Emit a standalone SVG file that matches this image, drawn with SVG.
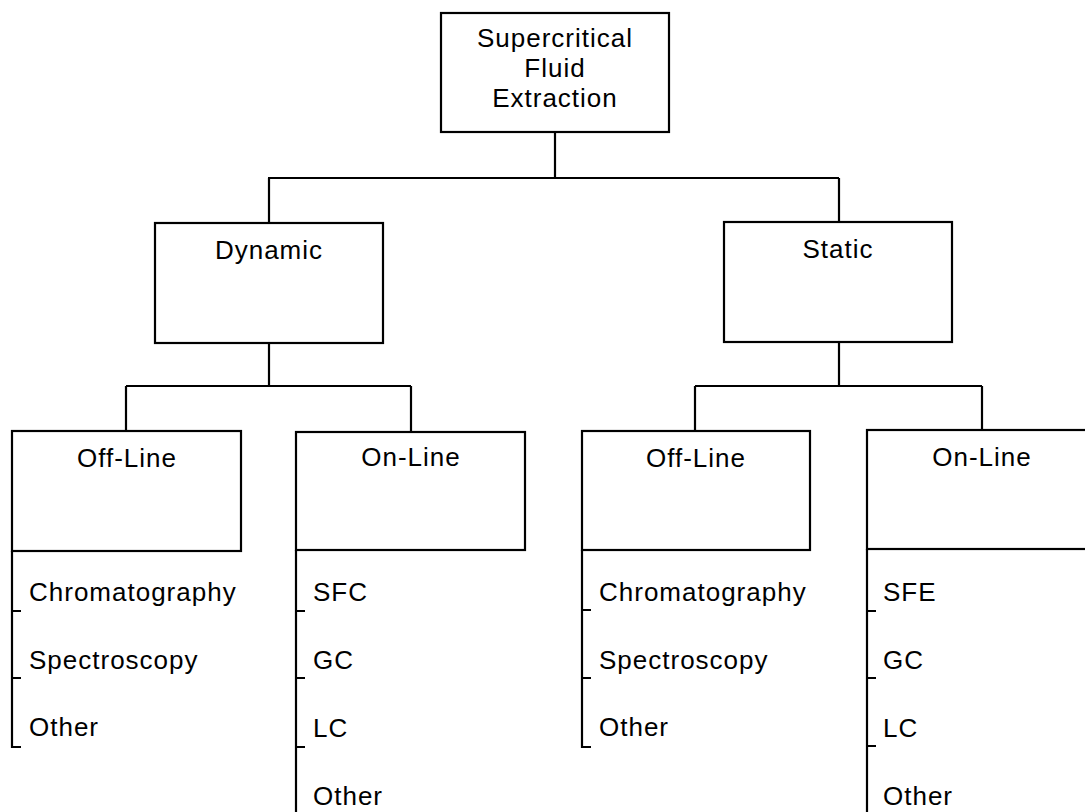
<svg xmlns="http://www.w3.org/2000/svg" width="1085" height="812" viewBox="0 0 1085 812">
<style>
.box{fill:#fff;stroke:#000;stroke-width:2.2}
.ln{fill:none;stroke:#000;stroke-width:2.2}
text{font-family:"Liberation Sans",Arial,sans-serif;font-size:26px;letter-spacing:1px;fill:#000}
.c{text-anchor:middle}
</style>
<rect width="1085" height="812" fill="#fff"/>
<g id="connectors" class="ln">
<path d="M555,132 V178 M268,178 H839 M269,178 V223 M839,178 V222"/>
<path d="M269,343 V386 M126,386 H411 M126,386 V431 M411,386 V432"/>
<path d="M839,342 V386 M695,386 H982 M695,386 V431 M982,386 V430"/>
</g>
<g id="sfe">
<rect class="box" x="441" y="13" width="228" height="119"/>
<text class="c" x="555" y="47">Supercritical</text>
<text class="c" x="555" y="77">Fluid</text>
<text class="c" x="555" y="107">Extraction</text>
</g>
<g id="dynamic">
<rect class="box" x="155" y="223" width="228" height="120"/>
<text class="c" x="269" y="259">Dynamic</text>
</g>
<g id="static">
<rect class="box" x="724" y="222" width="228" height="120"/>
<text class="c" x="838" y="258">Static</text>
</g>
<g id="dyn-offline">
<rect class="box" x="12" y="431" width="229" height="120"/>
<text class="c" x="127" y="467">Off-Line</text>
<path class="ln" d="M12,551 V747 H21 M12,611 H21 M12,678 H21"/>
<text x="29" y="601">Chromatography</text>
<text x="29" y="669">Spectroscopy</text>
<text x="29" y="736">Other</text>
</g>
<g id="dyn-online">
<rect class="box" x="296" y="432" width="229" height="118"/>
<text class="c" x="411" y="466">On-Line</text>
<path class="ln" d="M296,550 V812 M296,611 H305 M296,678 H305 M296,747 H305"/>
<text x="313" y="601">SFC</text>
<text x="313" y="669">GC</text>
<text x="313" y="737">LC</text>
<text x="313" y="805">Other</text>
</g>
<g id="sta-offline">
<rect class="box" x="582" y="431" width="228" height="119"/>
<text class="c" x="696" y="467">Off-Line</text>
<path class="ln" d="M582,550 V747 H591 M582,610 H591 M582,678 H591"/>
<text x="599" y="601">Chromatography</text>
<text x="599" y="669">Spectroscopy</text>
<text x="599" y="736">Other</text>
</g>
<g id="sta-online">
<rect class="box" x="867" y="430" width="228" height="119"/>
<text class="c" x="982" y="466">On-Line</text>
<path class="ln" d="M867,549 V812 M867,611 H876 M867,678 H876 M867,746 H876"/>
<text x="883" y="601">SFE</text>
<text x="883" y="669">GC</text>
<text x="883" y="737">LC</text>
<text x="883" y="805">Other</text>
</g>
</svg>
